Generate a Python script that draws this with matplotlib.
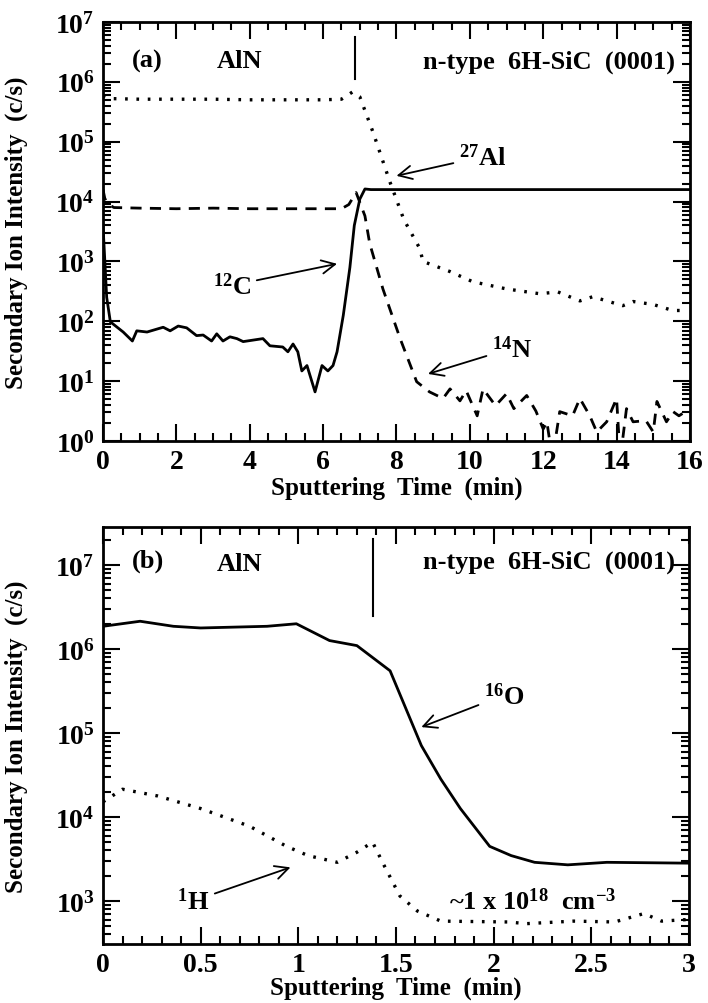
import numpy as np
import matplotlib
matplotlib.use("Agg")
import matplotlib.pyplot as plt
from matplotlib.ticker import FixedLocator, FuncFormatter, LogLocator, NullFormatter, MultipleLocator

plt.rcParams['font.family'] = ['Liberation Serif', 'DejaVu Serif']
plt.rcParams['font.weight'] = 'bold'
plt.rcParams['mathtext.fontset'] = 'custom'
plt.rcParams['mathtext.rm'] = 'Liberation Serif:bold'
plt.rcParams['mathtext.bf'] = 'Liberation Serif:bold'
plt.rcParams['mathtext.it'] = 'Liberation Serif:bold'

# ---------------- Panel (a) data ----------------
al_t = [0.0, 0.2, 1, 2, 3, 4, 5, 6, 6.5, 6.8, 7.0, 7.36, 7.82, 8.2, 8.64, 8.72, 9.46, 10.08, 11.0, 11.9,
        12.4, 13.0, 13.35, 14.17, 14.45, 15.0, 15.53, 15.9]
al_log = [5.77, 5.72, 5.71, 5.71, 5.71, 5.70, 5.70, 5.70, 5.71, 5.83, 5.75, 5.16, 4.33, 3.7, 3.21, 3.0, 2.83, 2.66,
          2.54, 2.46, 2.49, 2.34, 2.41, 2.26, 2.33, 2.28, 2.18, 2.18]

c_t = [0.0, 0.05, 0.1, 0.2, 0.55, 0.8, 0.92, 1.2, 1.64, 1.83, 2.05, 2.28, 2.55, 2.73, 2.96, 3.1, 3.27, 3.46,
       3.65, 3.82, 4.36, 4.55, 4.9, 5.04, 5.18, 5.31, 5.42, 5.56, 5.78, 5.97, 6.13, 6.27, 6.38, 6.55, 6.73,
       6.85, 7.0, 7.14, 7.3, 8, 10, 12, 14, 16]
c_log = [3.6, 3.0, 2.4, 1.99, 1.82, 1.67, 1.84, 1.82, 1.9, 1.84, 1.92, 1.89, 1.76, 1.77, 1.67, 1.79, 1.67,
         1.74, 1.71, 1.66, 1.71, 1.59, 1.57, 1.49, 1.62, 1.49, 1.17, 1.26, 0.82, 1.26, 1.17, 1.26, 1.49,
         2.1, 2.9, 3.6, 4.04, 4.21, 4.2, 4.2, 4.2, 4.2, 4.2, 4.2]

n_t = [0.0, 0.05, 0.15, 0.3, 1, 2, 3, 4, 5, 6, 6.5, 6.7, 6.9, 7.14, 7.27, 7.63, 8.1, 8.55, 8.9, 9.27,
       9.46, 9.73, 9.9, 10.2, 10.36, 10.7, 11.0, 11.2, 11.55, 11.8, 12.0, 12.1, 12.25, 12.45, 12.8,
       13.0, 13.27, 13.46, 13.73, 14.0, 14.1, 14.27, 14.45, 14.8, 15.0, 15.1, 15.36, 15.54, 15.7, 15.9]
n_log = [4.2, 4.05, 3.95, 3.9, 3.89, 3.88, 3.89, 3.88, 3.88, 3.88, 3.88, 3.95, 4.15, 3.76, 3.3, 2.54,
         1.71, 0.99, 0.82, 0.71, 0.87, 0.67, 0.84, 0.42, 0.87, 0.59, 0.79, 0.54, 0.76, 0.5, 0.2, 0.32,
         -0.3, 0.49, 0.42, 0.71, 0.42, 0.15, 0.32, 0.71, -0.3, 0.54, 0.32, 0.34, 0.15, 0.66, 0.32, 0.49,
         0.42, 0.5]

# ---------------- Panel (b) data ----------------
o_t = [0.0, 0.19, 0.36, 0.5, 0.84, 0.99, 1.16, 1.30, 1.47, 1.63, 1.73, 1.83, 1.98, 2.09, 2.21, 2.38, 2.58, 3.0]
o_log = [6.27, 6.33, 6.27, 6.25, 6.27, 6.30, 6.10, 6.04, 5.74, 4.85, 4.45, 4.1, 3.65, 3.54, 3.46, 3.43, 3.46, 3.45]

h_t = [0.0, 0.10, 0.28, 0.5, 0.75, 0.94, 1.05, 1.2, 1.3, 1.38, 1.44, 1.52, 1.61, 1.73, 2.07, 2.17, 2.41,
       2.62, 2.77, 2.86, 3.0]
h_log = [4.18, 4.33, 4.25, 4.1, 3.89, 3.65, 3.54, 3.46, 3.58, 3.7, 3.42, 3.06, 2.88, 2.76, 2.75, 2.73,
         2.76, 2.75, 2.85, 2.76, 2.78]

boundary_a = 6.87
boundary_b = 1.38

TXT = 19
ANN = 19
ARROW = dict(arrowstyle='->', color='black', lw=1.3, mutation_scale=24, shrinkA=2, shrinkB=0)


def sup_fmt(v, pos):
    e = int(round(np.log10(v)))
    return r'$10^{%d}$' % e


def style_axes(ax, xmaj, xmin, decades, xpad):
    ax.set_yscale('log')
    for s in ax.spines.values():
        s.set_linewidth(2.0)
    ax.yaxis.set_major_locator(FixedLocator([10.0 ** k for k in decades]))
    ax.yaxis.set_minor_locator(LogLocator(base=10, subs=np.arange(2, 10), numticks=20))
    ax.yaxis.set_major_formatter(FuncFormatter(sup_fmt))
    ax.yaxis.set_minor_formatter(NullFormatter())
    ax.xaxis.set_major_locator(MultipleLocator(xmaj))
    ax.xaxis.set_minor_locator(MultipleLocator(xmin))
    ax.tick_params(which='both', direction='in', top=True, right=True, width=1.5)
    ax.tick_params(which='major', length=12, labelsize=20, pad=6)
    ax.tick_params(which='minor', length=6)
    ax.set_ylabel('Secondary Ion Intensity  (c/s)', fontsize=18, fontweight='bold')
    ax.yaxis.set_label_coords(-0.128, 0.5)
    ax.set_xlabel('Sputtering  Time  (min)', fontsize=18, fontweight='bold', labelpad=xpad)


fig = plt.figure(figsize=(7.08, 10.04), dpi=100)
ax1 = fig.add_axes([0.1455, 0.5598, 0.829, 0.4173])
ax2 = fig.add_axes([0.1455, 0.0588, 0.8275, 0.4153])

# Panel (a)
ax1.plot(al_t, 10 ** np.array(al_log), color='black', lw=2.4, linestyle=(0, (0.8, 2.6)))
ax1.plot(c_t, 10 ** np.array(c_log), color='black', lw=2.0, linestyle='-')
ax1.plot(n_t, 10 ** np.array(n_log), color='black', lw=2.0, linestyle=(0, (4, 3)))
style_axes(ax1, 2, 0.5, range(0, 8), 1)
ax1.set_xlim(0, 16)
ax1.set_ylim(1, 1e7)
ax1.plot([boundary_a, boundary_a], [10 ** 6.05, 10 ** 6.75], color='black', lw=1.5)
ax1.text(0.8, 10 ** 6.35, '(a)', fontsize=TXT, fontweight='bold', va='center', ha='left')
ax1.text(3.1, 10 ** 6.35, 'AlN', fontsize=TXT, fontweight='bold', va='center', ha='left')
ax1.text(15.6, 10 ** 6.35, 'n-type  6H-SiC  (0001)', fontsize=TXT, fontweight='bold', va='center', ha='right')
ax1.annotate(r'$^{27}$Al', xy=(8.0, 10 ** 4.43), xytext=(9.7, 10 ** 4.75), fontsize=ANN, fontweight='bold',
             va='center', ha='left', arrowprops=ARROW)
ax1.annotate(r'$^{12}$C', xy=(6.38, 10 ** 2.96), xytext=(3.0, 10 ** 2.6), fontsize=ANN, fontweight='bold',
             va='center', ha='left', arrowprops=ARROW)
ax1.annotate(r'$^{14}$N', xy=(8.86, 10 ** 1.12), xytext=(10.6, 10 ** 1.55), fontsize=ANN, fontweight='bold',
             va='center', ha='left', arrowprops=ARROW)

# Panel (b)
ax2.plot(o_t, 10 ** np.array(o_log), color='black', lw=2.0, linestyle='-')
ax2.plot(h_t, 10 ** np.array(h_log), color='black', lw=2.4, linestyle=(0, (0.8, 2.6)))
style_axes(ax2, 0.5, 0.1, range(3, 8), -1)
ax2.set_xlim(0, 3)
ax2.set_ylim(10 ** 2.488, 10 ** 7.452)
ax2.xaxis.set_major_formatter(FuncFormatter(lambda v, p: ('%g' % v)))
ax2.plot([boundary_b, boundary_b], [10 ** 6.39, 10 ** 7.31], color='black', lw=1.5)
ax2.text(0.15, 10 ** 7.05, '(b)', fontsize=TXT, fontweight='bold', va='center', ha='left')
ax2.text(0.58, 10 ** 7.02, 'AlN', fontsize=TXT, fontweight='bold', va='center', ha='left')
ax2.text(2.93, 10 ** 7.04, 'n-type  6H-SiC  (0001)', fontsize=TXT, fontweight='bold', va='center', ha='right')
ax2.annotate(r'$^{16}$O', xy=(1.63, 10 ** 5.07), xytext=(1.95, 10 ** 5.45), fontsize=ANN, fontweight='bold',
             va='center', ha='left', arrowprops=ARROW)
ax2.annotate(r'$^{1}$H', xy=(0.96, 10 ** 3.40), xytext=(0.38, 10 ** 3.0), fontsize=ANN, fontweight='bold',
             va='center', ha='left', arrowprops=ARROW)
ax2.text(2.2, 10 ** 3.0, r'~1 x 10$^{18}$  cm$^{-3}$', fontsize=ANN, fontweight='bold', va='center', ha='center')

fig.savefig('out.png', dpi=100)
